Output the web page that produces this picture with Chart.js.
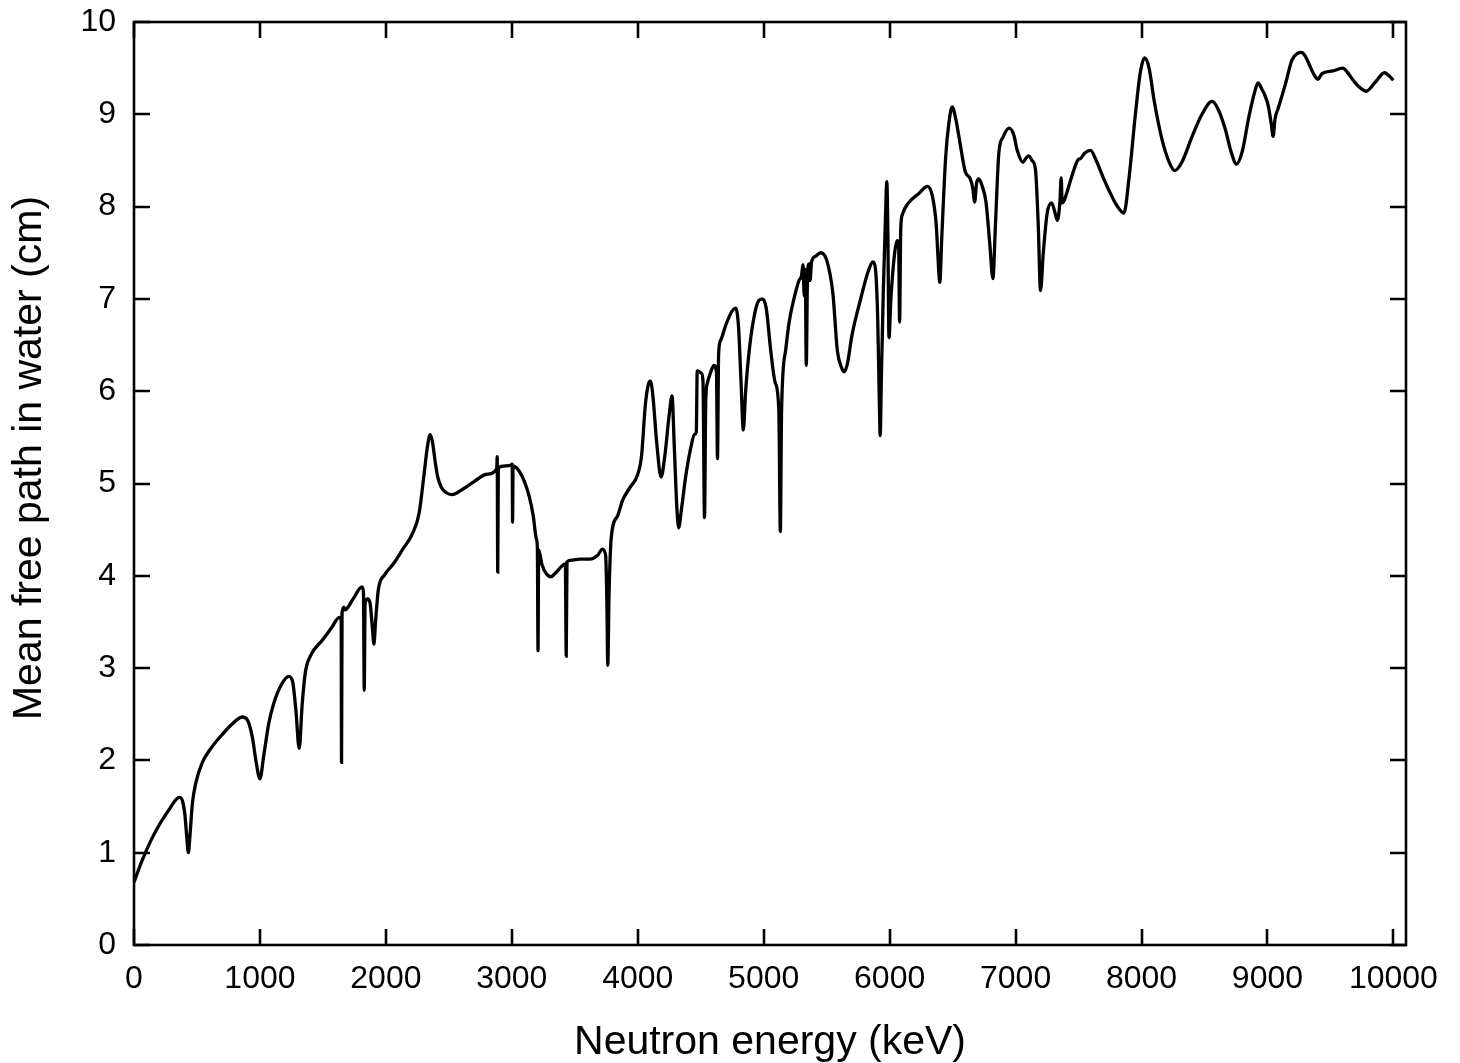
<!DOCTYPE html>
<html>
<head>
<meta charset="utf-8">
<script src="https://cdn.jsdelivr.net/npm/chart.js@4.4.1/dist/chart.umd.min.js"></script>
<style>
  body { margin: 0; background: #fff; }
  #wrap { width: 1460px; height: 1063px; }
</style>
</head>
<body>
<div id="wrap"><canvas id="myChart" width="1460" height="1063"></canvas></div>
<script>
// neutron energy (keV)
const energy = [
    0, 60, 130, 200, 280, 330, 360, 385, 405, 420, 432, 445, 465, 490, 540, 600, 700, 800, 860, 900,
    940, 970, 1000, 1030, 1070, 1110, 1170, 1230, 1260, 1285, 1312, 1335, 1360, 1400, 1500, 1570, 1630, 1645, 1648, 1652,
    1668, 1675, 1740, 1810, 1822, 1828, 1835, 1855, 1875, 1895, 1905, 1918, 1940, 1990, 2060, 2130, 2212, 2264, 2304, 2330,
    2352, 2370, 2390, 2410, 2440, 2480, 2525, 2600, 2700, 2800, 2880, 2884, 2888, 2893, 2950, 2995, 3003, 3006, 3010, 3060,
    3100, 3140, 3170, 3195, 3203, 3208, 3213, 3240, 3270, 3310, 3360, 3425, 3432, 3438, 3480, 3540, 3620, 3680, 3720, 3745,
    3755, 3762, 3772, 3790, 3840, 3880, 3940, 3997, 4030, 4060, 4085, 4100, 4120, 4150, 4185, 4215, 4250, 4272, 4290, 4310,
    4325, 4345, 4380, 4420, 4450, 4465, 4472, 4490, 4508, 4518, 4530, 4540, 4553, 4580, 4605, 4625, 4633, 4642, 4658, 4700,
    4750, 4777, 4800, 4820, 4838, 4857, 4890, 4930, 4960, 4990, 5020, 5055, 5090, 5120, 5132, 5142, 5175, 5201, 5240, 5280,
    5300, 5312, 5322, 5330, 5338, 5348, 5360, 5368, 5380, 5410, 5452, 5500, 5550, 5584, 5620, 5640, 5665, 5700, 5770, 5830,
    5867, 5885, 5905, 5918, 5925, 5935, 5950, 5965, 5978, 5985, 5995, 6010, 6040, 6060, 6072, 6079, 6088, 6100, 6150, 6230,
    6300, 6340, 6370, 6390, 6398, 6415, 6445, 6470, 6497, 6525, 6550, 6600, 6640, 6660, 6675, 6690, 6709, 6735, 6765, 6795,
    6820, 6840, 6867, 6900, 6947, 6985, 7013, 7058, 7085, 7106, 7130, 7158, 7180, 7198, 7220, 7251, 7286, 7310, 7331, 7352,
    7362, 7370, 7384, 7440, 7497, 7515, 7550, 7595, 7640, 7700, 7740, 7800, 7860, 7900, 7952, 7990, 8025, 8060, 8100, 8164,
    8220, 8264, 8320, 8402, 8480, 8560, 8610, 8667, 8710, 8754, 8800, 8852, 8900, 8925, 8960, 8975, 9005, 9030, 9045, 9060,
    9084, 9143, 9195, 9240, 9270, 9300, 9328, 9370, 9399, 9433, 9520, 9598, 9632, 9680, 9725, 9783, 9857, 9929, 9963, 10000
];
// mean free path (cm)
const mfp = [
    0.68, 0.90, 1.12, 1.30, 1.47, 1.57, 1.60, 1.56, 1.40, 1.15, 1.00, 1.20, 1.55, 1.75, 1.97, 2.11, 2.28, 2.42, 2.47, 2.44,
    2.25, 1.98, 1.80, 2.05, 2.40, 2.62, 2.82, 2.91, 2.85, 2.55, 2.13, 2.60, 2.95, 3.13, 3.31, 3.44, 3.55, 3.52, 1.98, 3.60,
    3.66, 3.63, 3.75, 3.88, 3.82, 2.76, 3.70, 3.75, 3.70, 3.40, 3.26, 3.50, 3.85, 4.01, 4.13, 4.28, 4.46, 4.68, 5.11, 5.40,
    5.53, 5.45, 5.25, 5.08, 4.96, 4.90, 4.88, 4.93, 5.02, 5.10, 5.16, 5.29, 4.04, 5.17, 5.19, 5.20, 5.21, 4.58, 5.19, 5.13,
    5.02, 4.85, 4.65, 4.40, 4.30, 3.19, 4.28, 4.12, 4.03, 3.99, 4.05, 4.13, 3.13, 4.15, 4.17, 4.18, 4.18, 4.22, 4.29, 4.22,
    3.70, 3.03, 3.80, 4.42, 4.65, 4.82, 4.96, 5.09, 5.30, 5.85, 6.08, 6.11, 5.95, 5.45, 5.07, 5.30, 5.75, 5.95, 5.40, 4.75,
    4.52, 4.70, 5.07, 5.38, 5.53, 5.56, 6.22, 6.21, 6.19, 6.10, 4.63, 5.90, 6.09, 6.21, 6.28, 6.20, 5.27, 6.40, 6.55, 6.72,
    6.87, 6.90, 6.70, 6.10, 5.58, 6.01, 6.50, 6.85, 6.98, 7.00, 6.90, 6.45, 6.10, 5.80, 4.48, 5.80, 6.45, 6.74, 7.00, 7.20,
    7.25, 7.37, 7.03, 7.32, 6.28, 7.25, 7.38, 7.20, 7.40, 7.46, 7.50, 7.42, 7.05, 6.45, 6.25, 6.21, 6.30, 6.60, 7.00, 7.30,
    7.40, 7.35, 6.80, 5.90, 5.52, 6.20, 7.10, 7.80, 8.27, 7.80, 6.58, 7.00, 7.50, 7.63, 7.55, 6.75, 7.75, 7.91, 8.04, 8.14,
    8.22, 8.11, 7.80, 7.30, 7.18, 7.70, 8.54, 8.90, 9.08, 8.95, 8.76, 8.38, 8.30, 8.20, 8.05, 8.25, 8.30, 8.22, 8.05, 7.60,
    7.22, 7.80, 8.58, 8.75, 8.85, 8.78, 8.61, 8.48, 8.53, 8.55, 8.50, 8.40, 7.80, 7.09, 7.50, 7.93, 8.04, 7.95, 7.85, 8.05,
    8.31, 8.04, 8.06, 8.30, 8.51, 8.52, 8.58, 8.61, 8.50, 8.30, 8.18, 8.02, 7.93, 8.30, 9.01, 9.45, 9.61, 9.50, 9.15, 8.72,
    8.48, 8.39, 8.48, 8.76, 9.00, 9.14, 9.05, 8.83, 8.60, 8.46, 8.60, 8.97, 9.25, 9.34, 9.26, 9.22, 9.10, 8.90, 8.76, 8.95,
    9.06, 9.33, 9.59, 9.66, 9.67, 9.63, 9.55, 9.43, 9.38, 9.44, 9.47, 9.50, 9.46, 9.37, 9.30, 9.25, 9.35, 9.45, 9.42, 9.37
];
const xTicks = [0, 1000, 2000, 3000, 4000, 5000, 6000, 7000, 8000, 9000, 10000];
const yTicks = [0, 1, 2, 3, 4, 5, 6, 7, 8, 9, 10];

const xTitle = 'Neutron energy (keV)';
const yTitle = 'Mean free path in water (cm)';

const fontFamily = "'Liberation Sans', Arial, sans-serif";

// box round the plot with inward ticks on all four sides, plus the y title
const frame = {
    id: 'frame',
    afterDraw(chart) {
        const {ctx, chartArea: a, scales: {x, y}} = chart;
        const len = 16;
        ctx.save();
        ctx.strokeStyle = '#000';
        ctx.lineWidth = 2.6;
        ctx.strokeRect(a.left, a.top, a.right - a.left, a.bottom - a.top);
        ctx.beginPath();
        x.ticks.forEach(t => {
            const px = Math.round(x.getPixelForValue(t.value));
            ctx.moveTo(px, a.bottom); ctx.lineTo(px, a.bottom - len);
            ctx.moveTo(px, a.top); ctx.lineTo(px, a.top + len);
        });
        y.ticks.forEach(t => {
            const py = Math.round(y.getPixelForValue(t.value));
            ctx.moveTo(a.left, py); ctx.lineTo(a.left + len, py);
            ctx.moveTo(a.right, py); ctx.lineTo(a.right - len, py);
        });
        ctx.stroke();

        ctx.translate(30, 458);
        ctx.rotate(-Math.PI / 2);
        ctx.fillStyle = '#000';
        ctx.font = '41px ' + fontFamily;
        ctx.textAlign = 'center';
        ctx.textBaseline = 'middle';
        ctx.fillText(yTitle, 0, 0);
        ctx.restore();
    }
};

const ctx = document.getElementById('myChart').getContext('2d');
new Chart(ctx, {
    type: 'line',
    data: {
        datasets: [{
            data: energy.map((e, i) => ({x: e, y: mfp[i]})),
            borderColor: '#000',
            borderWidth: 3.3,
            pointRadius: 0,
            fill: false,
            cubicInterpolationMode: 'monotone'
        }]
    },
    options: {
        responsive: false,
        animation: false,
        devicePixelRatio: 1,
        layout: {
            padding: {top: 22, right: 54, bottom: 0, left: 0}
        },
        scales: {
            x: {
                type: 'linear',
                min: 0,
                max: 10100,
                afterBuildTicks: scale => { scale.ticks = xTicks.map(v => ({value: v})); },
                afterFit: scale => {
                    scale.height = 118;
                    scale.paddingLeft = 0;
                    scale.paddingRight = 0;
                },
                ticks: {
                    color: '#000',
                    padding: 15,
                    maxRotation: 0,
                    callback: v => String(v),
                    font: {family: fontFamily, size: 32}
                },
                grid: {display: false, drawTicks: false},
                border: {display: false},
                title: {
                    display: true,
                    text: xTitle,
                    color: '#000',
                    font: {family: fontFamily, size: 41, lineHeight: 1.0},
                    padding: {top: 0, bottom: 0}
                }
            },
            y: {
                type: 'linear',
                min: 0,
                max: 10,
                afterBuildTicks: scale => { scale.ticks = yTicks.map(v => ({value: v})); },
                afterFit: scale => {
                    scale.width = 134;
                    scale.paddingTop = 0;
                    scale.paddingBottom = 0;
                },
                ticks: {
                    color: '#000',
                    padding: 18,
                    callback: v => String(v),
                    font: {family: fontFamily, size: 32}
                },
                grid: {display: false, drawTicks: false},
                border: {display: false}
            }
        },
        plugins: {
            legend: {display: false},
            tooltip: {enabled: false}
        }
    },
    plugins: [frame]
});
</script>
</body>
</html>
